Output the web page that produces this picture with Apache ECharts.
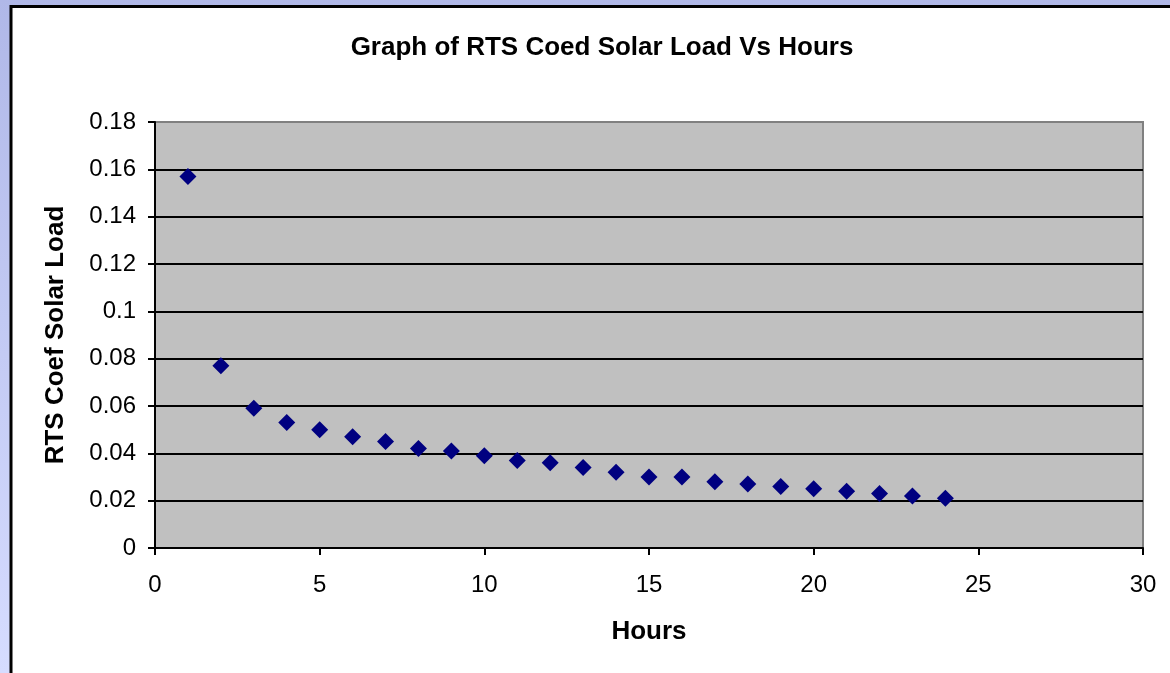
<!DOCTYPE html>
<html>
<head>
<meta charset="utf-8">
<script src="https://cdn.jsdelivr.net/npm/echarts@6/dist/echarts.min.js"></script>
<style>
  html, body { margin: 0; padding: 0; }
  #chart { width: 1170px; height: 673px; }
</style>
</head>
<body>
<div id="chart"></div>
<script>
// Hour of the day and the RTS solar load coefficient for that hour
const hours = [1, 2, 3, 4, 5, 6, 7, 8, 9, 10, 11, 12, 13, 14, 15, 16, 17, 18, 19, 20, 21, 22, 23, 24];
const rtsCoef = [0.157, 0.077, 0.059, 0.053, 0.050, 0.047, 0.045, 0.042, 0.041, 0.039, 0.037, 0.036,
                 0.034, 0.032, 0.030, 0.030, 0.028, 0.027, 0.026, 0.025, 0.024, 0.023, 0.022, 0.021];

const chartTitle = 'Graph of RTS Coed Solar Load Vs Hours';
const xName = 'Hours';
const yName = 'RTS Coef Solar Load';

const points = hours.map((h, i) => [h, rtsCoef[i]]);

const font = 'Liberation Sans, Arial, sans-serif';
const chart = echarts.init(document.getElementById('chart'));

chart.setOption({
  animation: false,
  graphic: [
    {
      type: 'rect', z: -100, silent: true,
      shape: { x: 0, y: 0, width: 1170, height: 673 },
      style: {
        fill: new echarts.graphic.LinearGradient(0, 0, 0, 1, [
          { offset: 0, color: '#b0b8e8' },
          { offset: 1, color: '#d6dcff' }
        ])
      }
    },
    {
      type: 'rect', z: -99, silent: true,
      shape: { x: 11, y: 6.5, width: 1200, height: 700 },
      style: { fill: '#ffffff', stroke: '#000000', lineWidth: 3 }
    }
  ],
  title: {
    text: chartTitle,
    left: 597,
    top: 30,
    textAlign: 'center',
    textStyle: { fontFamily: font, fontSize: 26, fontWeight: 'bold', color: '#000' }
  },
  grid: {
    left: 155, top: 122, width: 988, height: 426,
    show: true,
    backgroundColor: '#c0c0c0',
    borderColor: '#808080',
    borderWidth: 2
  },
  xAxis: {
    type: 'value',
    min: 0, max: 30, interval: 5,
    name: xName,
    nameLocation: 'middle',
    nameGap: 71,
    nameTextStyle: { fontFamily: font, fontSize: 26, fontWeight: 'bold', color: '#000' },
    axisLine: { show: true, onZero: false, lineStyle: { color: '#000', width: 2 } },
    axisTick: { show: true, length: 7, lineStyle: { color: '#000', width: 2 } },
    axisLabel: { fontFamily: font, fontSize: 24, color: '#000', margin: 25 },
    splitLine: { show: false }
  },
  yAxis: {
    type: 'value',
    min: 0, max: 0.18, interval: 0.02,
    name: yName,
    nameLocation: 'middle',
    nameGap: 86,
    nameTextStyle: { fontFamily: font, fontSize: 26, fontWeight: 'bold', color: '#000' },
    axisLine: { show: true, onZero: false, lineStyle: { color: '#000', width: 2 } },
    axisTick: { show: true, length: 7, lineStyle: { color: '#000', width: 2 } },
    axisLabel: { fontFamily: font, fontSize: 24, color: '#000', margin: 19 },
    splitLine: { show: true, showMaxLine: false, lineStyle: { color: '#000', width: 2 } }
  },
  series: [{
    type: 'scatter',
    data: points,
    symbol: 'diamond',
    symbolSize: 17,
    itemStyle: { color: '#000080', opacity: 1 }
  }]
});
</script>
</body>
</html>
